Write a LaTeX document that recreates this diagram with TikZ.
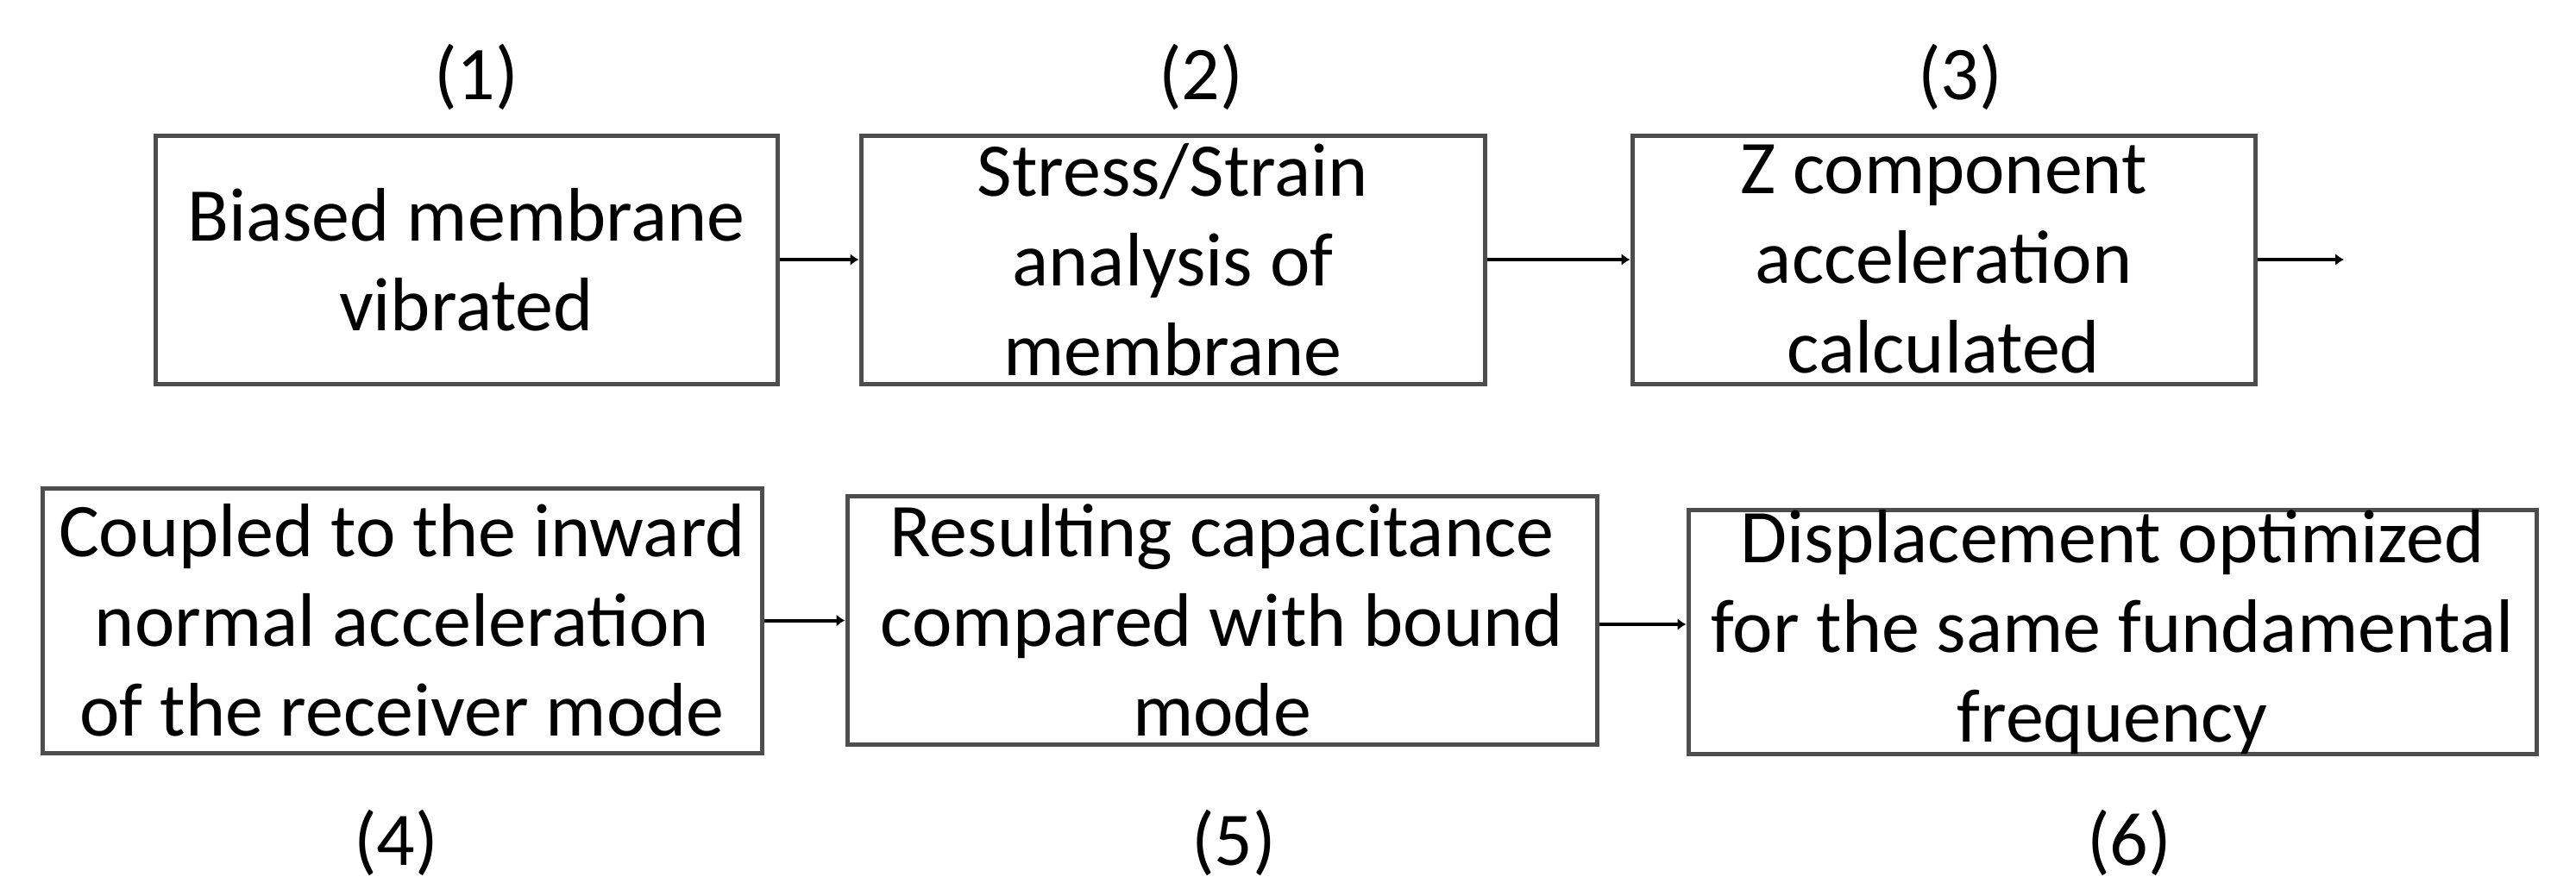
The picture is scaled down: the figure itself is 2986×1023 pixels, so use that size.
\documentclass[tikz,border=0pt]{standalone}
\usepackage{fontspec}
\setmainfont{Carlito}
\usetikzlibrary{arrows.meta}
\definecolor{boxgray}{HTML}{4D4D4D}
\begin{document}
\begin{tikzpicture}[x=0.5pt,y=-0.5pt,
  flowbox/.style={draw=boxgray, line width=2.5pt, rectangle, inner sep=0pt, align=center,
    font=\fontsize{44pt}{52pt}\selectfont},
  numlabel/.style={inner sep=0pt, font=\fontsize{44pt}{52pt}\selectfont},
  flowarrow/.style={draw=black, line width=2pt, -{Latex[length=5pt,width=7pt]}}]
\useasboundingbox[fill=white] (0,0) rectangle (2986,1023);
\node[flowbox, minimum width=721*0.5pt, minimum height=288*0.5pt] (b1) at (540.5,301) {Biased membrane\\vibrated};
\node[flowbox, minimum width=723*0.5pt, minimum height=288*0.5pt] (b2) at (1359.5,301) {Stress/Strain\\analysis of\\membrane};
\node[flowbox, minimum width=722*0.5pt, minimum height=288*0.5pt] (b3) at (2253,301) {Z component\\acceleration\\calculated};
\node[flowbox, minimum width=834*0.5pt, minimum height=307*0.5pt] (b4) at (466,719.5) {Coupled to the inward\\normal acceleration\\of the receiver mode};
\node[flowbox, minimum width=869*0.5pt, minimum height=288*0.5pt] (b5) at (1416.5,719) {Resulting capacitance\\compared with bound\\mode};
\node[flowbox, minimum width=983*0.5pt, minimum height=280*0.5pt] (b6) at (2448.5,733) {Displacement optimized\\for the same fundamental\\frequency};
\node[numlabel] (l1) at (552,89) {(1)};
\node[numlabel] (l2) at (1392,89) {(2)};
\node[numlabel] (l3) at (2272,89) {(3)};
\node[numlabel] (l4) at (459,977) {(4)};
\node[numlabel] (l5) at (1430,977) {(5)};
\node[numlabel] (l6) at (2468,977) {(6)};
\coordinate (e3) at (2717,301);
\coordinate (a5) at ([yshift=-2.5pt]b5.east);
\draw[flowarrow] (b1.east) -- (b2.west);
\draw[flowarrow] (b2.east) -- (b3.west);
\draw[flowarrow] (b3.east) -- (e3);
\draw[flowarrow] (b4.east) -- (b5.west |- b4.east);
\draw[flowarrow] (a5) -- (b6.west |- a5);
\end{tikzpicture}
\end{document}
